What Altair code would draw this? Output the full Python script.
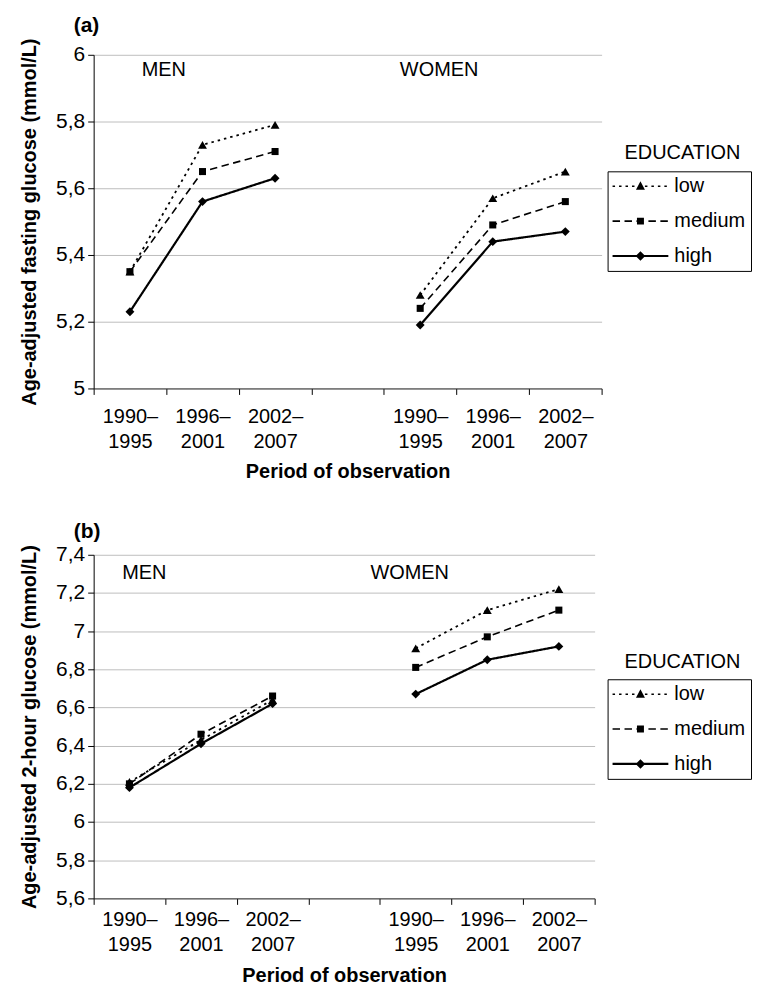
import altair as alt
import pandas as pd

periods = ["1990–1995", "1996–2001", "2002–2007"]
sexes = ["MEN", "WOMEN"]
levels = ["low", "medium", "high"]

# (a) age-adjusted fasting glucose (mmol/L)
fast_men_low = [5.35, 5.73, 5.79]
fast_men_medium = [5.35, 5.65, 5.71]
fast_men_high = [5.23, 5.56, 5.63]
fast_women_low = [5.28, 5.57, 5.65]
fast_women_medium = [5.24, 5.49, 5.56]
fast_women_high = [5.19, 5.44, 5.47]

# (b) age-adjusted 2-hour glucose (mmol/L)
two_men_low = [6.21, 6.43, 6.64]
two_men_medium = [6.20, 6.46, 6.66]
two_men_high = [6.18, 6.41, 6.62]
two_women_low = [6.91, 7.11, 7.22]
two_women_medium = [6.81, 6.97, 7.11]
two_women_high = [6.67, 6.85, 6.92]

fast_ticks = [5, 5.2, 5.4, 5.6, 5.8, 6]
two_ticks = [5.6, 5.8, 6, 6.2, 6.4, 6.6, 6.8, 7, 7.2, 7.4]

# category slots along x: men periods, an empty slot, women periods
slots = [("MEN", p) for p in periods] + [("", "")] + [("WOMEN", p) for p in periods]
slot_ticks = list(range(len(slots) + 1))

dash_style = {"low": [2.5, 4], "medium": [7.5, 4.5], "high": [1, 0]}
width_style = {"low": 1.8, "medium": 1.6, "high": 2.2}
shape_style = {"low": "triangle-up", "medium": "square", "high": "diamond"}
size_style = {"low": 80, "medium": 50, "high": 80}


def long_df(series):
    rows = []
    for (sex, lev), vals in series.items():
        for p, v in zip(periods, vals):
            rows.append({"pos": slots.index((sex, p)) + 0.5, "sex": sex, "edu": lev, "value": v})
    return pd.DataFrame(rows)


fast_df = long_df({
    ("MEN", "low"): fast_men_low, ("MEN", "medium"): fast_men_medium, ("MEN", "high"): fast_men_high,
    ("WOMEN", "low"): fast_women_low, ("WOMEN", "medium"): fast_women_medium, ("WOMEN", "high"): fast_women_high,
})
two_df = long_df({
    ("MEN", "low"): two_men_low, ("MEN", "medium"): two_men_medium, ("MEN", "high"): two_men_high,
    ("WOMEN", "low"): two_women_low, ("WOMEN", "medium"): two_women_medium, ("WOMEN", "high"): two_women_high,
})

label_lines_1 = [p[:5] for _, p in slots]
label_lines_2 = [p[5:] for _, p in slots]
x_label_expr = f"[{label_lines_1}[datum.value] || '', {label_lines_2}[datum.value] || '']"
y_label_expr = "replace(format(datum.value, '~r'), '.', ',')"

# legend symbols: line + marker as custom paths (symbol size 400 -> 10 px per unit)
U = 10.0
HALF = 28.0


def rect(x0, x1, hw):
    return (f"M{x0/U:.4f},{-hw/U:.4f}L{x1/U:.4f},{-hw/U:.4f}"
            f"L{x1/U:.4f},{hw/U:.4f}L{x0/U:.4f},{hw/U:.4f}Z")


def pattern(on, off, hw):
    out, x = "", -HALF
    while x < HALF:
        out += rect(x, min(x + on, HALF), hw)
        x += on + off
    return out


tri = f"M0,{-5/U:.4f}L{4.5/U:.4f},{3.5/U:.4f}L{-4.5/U:.4f},{3.5/U:.4f}Z"
sq = f"M{-3.5/U:.4f},{-3.5/U:.4f}L{3.5/U:.4f},{-3.5/U:.4f}L{3.5/U:.4f},{3.5/U:.4f}L{-3.5/U:.4f},{3.5/U:.4f}Z"
dia = f"M0,{-4.8/U:.4f}L{4.8/U:.4f},0L0,{4.8/U:.4f}L{-4.8/U:.4f},0Z"
legend_paths = [
    pattern(2.5, 4.0, 0.8) + tri,
    pattern(7.5, 4.5, 0.8) + sq,
    rect(-HALF, HALF, 1.1) + dia,
]


def panel(df, ydom, yvals, ytitle, w, h, title, men_dx, women_dx, ann_y, leg_y, edu_y, lab_pad, tit_pad):
    x = alt.X("pos:Q",
              scale=alt.Scale(domain=[0, len(slots)], nice=False, zero=False),
              axis=alt.Axis(title="Period of observation", values=slot_ticks, labelExpr=x_label_expr,
                            labelOffset=w / len(slots) / 2, labelAngle=0, labelLineHeight=25,
                            labelPadding=lab_pad, titlePadding=tit_pad, grid=False, domainColor="#333333",
                            labelFlush=False, labelOverlap=False))
    y = alt.Y("value:Q",
              scale=alt.Scale(domain=ydom, nice=False, zero=False),
              axis=alt.Axis(title=ytitle, values=yvals, labelExpr=y_label_expr, grid=True,
                            gridColor="#bdbdbd", titlePadding=16, labelPadding=3, labelFontSize=21))
    base = alt.Chart(df)
    layers = []
    for lev in levels:
        layers.append(base.transform_filter(alt.datum.edu == lev).mark_line(
            color="black", strokeDash=dash_style[lev], strokeWidth=width_style[lev]
        ).encode(x=x, y=y, detail="sex:N"))
    for lev in levels:
        layers.append(base.transform_filter(alt.datum.edu == lev).mark_point(
            filled=True, color="black", opacity=1, shape=shape_style[lev], size=size_style[lev]
        ).encode(x=x, y=y))
    men = alt.Chart(pd.DataFrame({"pos": [slots.index(("MEN", periods[0])) + 0.5], "t": [sexes[0]]})).mark_text(
        align="center", baseline="middle", fontSize=20, color="black", dx=men_dx).encode(
        text="t:N", x=x, y=alt.value(ann_y))
    women = alt.Chart(pd.DataFrame({"pos": [slots.index(("WOMEN", periods[0])) + 0.5], "t": [sexes[1]]})).mark_text(
        align="center", baseline="middle", fontSize=20, color="black", dx=women_dx).encode(
        text="t:N", x=x, y=alt.value(ann_y))
    leg = alt.Chart(pd.DataFrame({"leg": levels})).mark_point(filled=True, color="black", opacity=0).encode(
        shape=alt.Shape("leg:N", scale=alt.Scale(domain=levels, range=legend_paths),
                        legend=alt.Legend(title=None, orient="none", legendX=516, legendY=leg_y,
                                          strokeColor="black", padding=5, symbolSize=400,
                                          symbolOpacity=1, symbolFillColor="black", symbolStrokeWidth=0,
                                          labelFontSize=20, labelOffset=24, rowPadding=15, symbolOffset=18,
                                          labelColor="black", labelFont="Liberation Sans")),
        size=alt.value(400), x=alt.value(w / 2), y=alt.value(h / 2),
    )
    edu = alt.Chart(pd.DataFrame({"t": ["EDUCATION"]})).mark_text(
        align="left", baseline="middle", fontSize=20, color="black").encode(
        text="t:N", x=alt.value(533), y=alt.value(edu_y))
    return alt.layer(*layers, men, women, leg, edu).properties(
        width=w, height=h,
        title=alt.TitleParams(text=title, anchor="start", frame="group", dx=-20, fontSize=21,
                              fontWeight="bold", offset=2, font="Liberation Sans", color="black"))


pa = panel(fast_df, [5, 6], fast_ticks, "Age-adjusted fasting glucose (mmol/L)", 510, 335, "(a)",
           34, 19, 15, 117, 99, 12, 10)
pb = panel(two_df, [5.6, 7.4], two_ticks, "Age-adjusted 2-hour glucose (mmol/L)", 503, 345, "(b)",
           15, -6, 18, 125, 108, 5, 11)

chart = alt.vconcat(pa, pb, spacing=40).resolve_scale(shape="independent").properties(
    padding={"left": 11, "top": 5, "right": 0, "bottom": 0}
).configure(font="Liberation Sans").configure_view(stroke=None).configure_axis(
    labelFontSize=20, titleFontSize=20, titleFontWeight="bold", labelColor="black", titleColor="black",
    tickColor="black", domainColor="black", tickSize=6, labelFont="Liberation Sans",
    titleFont="Liberation Sans")

chart.save("out.html", embed_options={"renderer": "svg", "actions": False})
